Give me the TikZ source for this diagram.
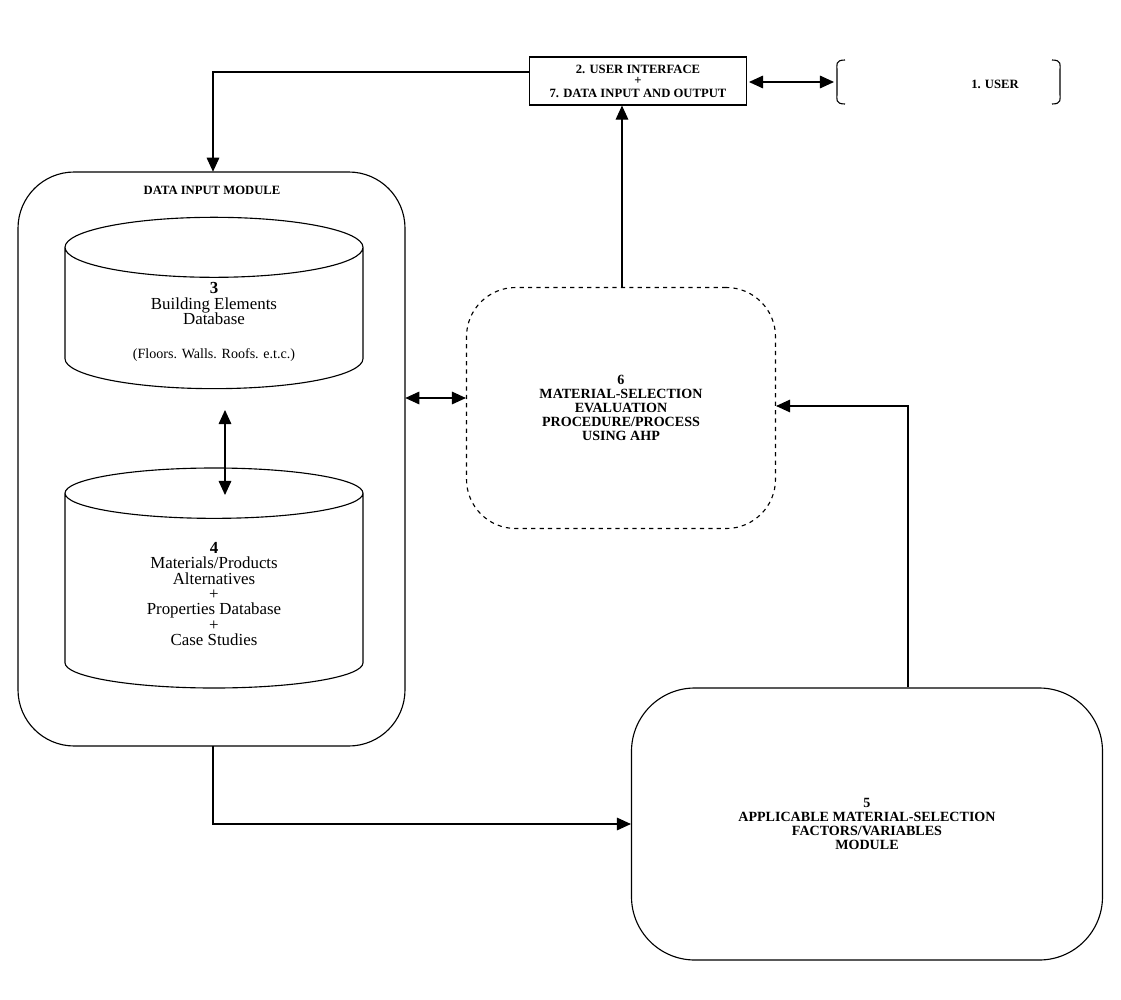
\documentclass[tikz,border=0pt]{standalone}
\usepackage{fontspec}
\setmainfont{Liberation Serif}
\usetikzlibrary{shapes.geometric, arrows.meta}
\begin{document}
\begin{tikzpicture}[x=0.025cm, y=-0.025cm,
  box/.style={draw, thick},
  arr/.style={-{Triangle[length=10pt,width=9pt]}, thick},
  darr/.style={{Triangle[length=10pt,width=9pt]}-{Triangle[length=10pt,width=9pt]}, thick},
  caps/.style={font=\bfseries, align=center},
  plain/.style={font=\large, align=center}]
\useasboundingbox (0,0) rectangle (1121,1000);

% user interface and user
\node (ui) [box, minimum width=217*0.025cm, minimum height=48*0.025cm, caps, font=\bfseries\small, inner sep=1pt] at (638,81)
  {2. USER INTERFACE\\[-3pt]+\\[-2pt]7. DATA INPUT AND OUTPUT};
\draw[thick] (845,60) .. controls (835,60) and (837,65) .. (837,70) -- (837,94) .. controls (837,99) and (835,104) .. (845,104);
\draw[thick] (1052,60) .. controls (1062,60) and (1060,65) .. (1060,70) -- (1060,94) .. controls (1060,99) and (1062,104) .. (1052,104);
\node (userlbl) [caps, font=\bfseries\small] at (995,84) {1. USER};
\coordinate (uiR) at (749,82);
\coordinate (userL) at (834,82);
\draw[darr] (uiR) -- (userL);

% data input module
\draw[box, rounded corners=40] (18,172) rectangle (405,746);
\node (dim) [minimum width=387*0.025cm, minimum height=574*0.025cm] at (211.5,459) {};
\node (dimlbl) [caps, font=\bfseries\small] at (212,190) {DATA INPUT MODULE};
\node (db3) [cylinder, shape border rotate=90, draw, thick, aspect=0.35,
  minimum width=298*0.025cm, minimum height=168*0.025cm, plain] at (214,322)
  {\textbf{3}\\[-3pt]Building Elements\\[-3pt]Database\\[10pt]{\normalsize(Floors. Walls. Roofs. e.t.c.)}};
\node (db4) [cylinder, shape border rotate=90, draw, thick, aspect=0.35,
  minimum width=298*0.025cm, minimum height=220*0.025cm, plain] at (214,594)
  {\textbf{4}\\[-3pt]Materials/Products\\[-3pt]Alternatives\\[-3pt]+\\[-3pt]Properties Database\\[-3pt]+\\[-3pt]Case Studies};
\draw[darr] (225,410) -- (225,495);

% evaluation procedure
\node (ahp) [draw, thick, dashed, rounded corners=35, minimum width=309*0.025cm,
  minimum height=241*0.025cm, caps] at (621,408)
  {6\\[-2pt]MATERIAL-SELECTION\\[-2pt]EVALUATION\\[-2pt]PROCEDURE/PROCESS\\[-2pt]USING AHP};
\draw[darr] (dim.east |- 0,398) -- (ahp.west |- 0,398);
\draw[arr] (ahp.north -| 622,0) -- (ui.south -| 622,0);

% factors module
\node (fac) [box, rounded corners=45, minimum width=471*0.025cm, minimum height=272*0.025cm, caps] at (867,824)
  {5\\[-2pt]APPLICABLE MATERIAL-SELECTION\\[-2pt]FACTORS/VARIABLES\\[-2pt]MODULE};
\draw[arr] (fac.north -| 908,0) |- (ahp.east |- 0,406);
\draw[arr] (dim.south -| 213,0) |- (fac.west |- 0,824);
\draw[arr] (ui.west |- 0,72) -| (dim.north -| 213,0);
\end{tikzpicture}
\end{document}
